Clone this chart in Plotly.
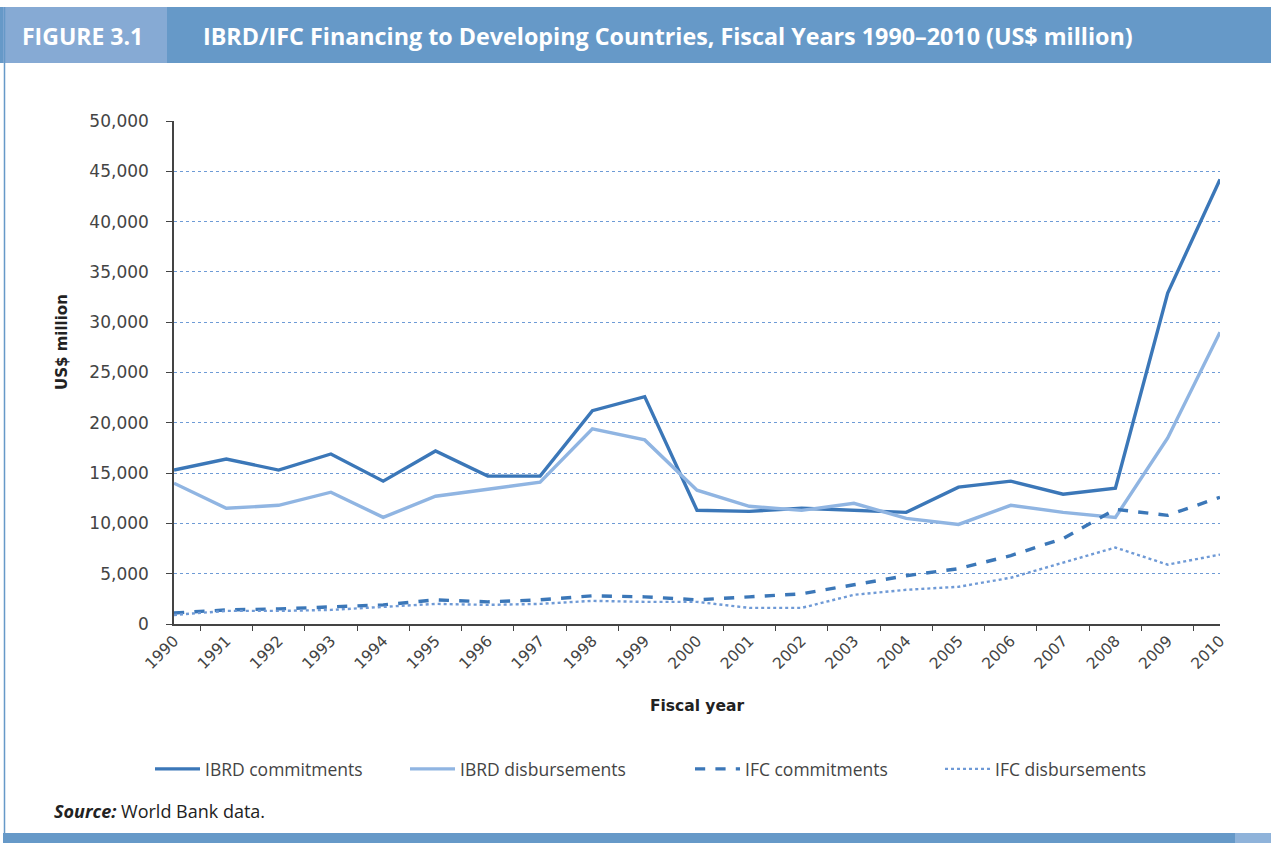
import plotly.graph_objects as go

years = [str(y) for y in range(1990, 2011)]
ibrd_commit = [15300, 16400, 15300, 16900, 14200, 17200, 14700, 14700, 21200, 22600,
               11300, 11200, 11500, 11300, 11100, 13600, 14200, 12900, 13500, 32900, 44200]
ibrd_disb = [14000, 11500, 11800, 13100, 10600, 12700, 13400, 14100, 19400, 18300,
             13300, 11700, 11300, 12000, 10500, 9900, 11800, 11100, 10600, 18500, 29000]
ifc_commit = [1100, 1400, 1500, 1700, 1900, 2400, 2200, 2400, 2800, 2700,
              2400, 2700, 3000, 3900, 4800, 5500, 6800, 8500, 11400, 10800, 12600]
ifc_disb = [900, 1300, 1300, 1400, 1700, 2000, 1900, 2000, 2300, 2200,
            2200, 1600, 1600, 2900, 3400, 3700, 4600, 6100, 7600, 5900, 6900]
y_ticks = list(range(0, 50001, 5000))
y_tick_labels = [f"{v:,}" for v in y_ticks]

PW, PH = 1271, 843
L, R, T, B = 174, 1220, 121, 624  # plot area in page pixels


def px(x):
    return (x - L) / (R - L)


def py(y):
    return (B - y) / (B - T)


dark = "#3b77b8"
light = "#90b5e2"

fig = go.Figure()
fig.add_trace(go.Scatter(x=years, y=ibrd_commit, mode="lines", name="IBRD commitments",
                         line=dict(color=dark, width=3.4), legend="legend"))
fig.add_trace(go.Scatter(x=years, y=ibrd_disb, mode="lines", name="IBRD disbursements",
                         line=dict(color=light, width=3.4), legend="legend2"))
fig.add_trace(go.Scatter(x=years, y=ifc_commit, mode="lines", name="IFC commitments",
                         line=dict(color=dark, width=3.4, dash="dash"), legend="legend3"))
fig.add_trace(go.Scatter(x=years, y=ifc_disb, mode="lines", name="IFC disbursements",
                         line=dict(color="#6f9ad6", width=2.4, dash="dot"), legend="legend4"))

shapes = [
    dict(type="rect", xref="paper", yref="paper", x0=px(0), x1=px(PW), y0=py(63), y1=py(7),
         fillcolor="#6699c8", line=dict(width=0), layer="below"),
    dict(type="rect", xref="paper", yref="paper", x0=px(3), x1=px(167), y0=py(63), y1=py(7),
         fillcolor="#86aad4", line=dict(width=0), layer="below"),
    dict(type="line", xref="paper", yref="paper", x0=px(4.5), x1=px(4.5), y0=py(833), y1=py(7),
         line=dict(color="#6699c8", width=1.5), layer="below"),
    dict(type="rect", xref="paper", yref="paper", x0=px(3), x1=px(1235), y0=py(PH), y1=py(833),
         fillcolor="#6699c8", line=dict(width=0), layer="below"),
    dict(type="rect", xref="paper", yref="paper", x0=px(1235), x1=px(PW), y0=py(PH), y1=py(833),
         fillcolor="#8fb3da", line=dict(width=0), layer="below"),
]

annotations = [
    dict(text="<b>FIGURE 3.1</b>", xref="paper", yref="paper", x=px(20), y=py(36),
         xanchor="left", yanchor="middle", showarrow=False,
         font=dict(family="Open Sans", size=23, color="white")),
    dict(text="<b>IBRD/IFC Financing to Developing Countries, Fiscal Years 1990–2010 (US$ million)</b>",
         xref="paper", yref="paper", x=px(201), y=py(36), xanchor="left", yanchor="middle",
         showarrow=False, font=dict(family="Open Sans", size=23.3, color="white")),
    dict(text="<b><i>Source:</i></b> World Bank data.", xref="paper", yref="paper",
         x=px(52), y=py(811), xanchor="left", yanchor="middle", showarrow=False,
         font=dict(family="Open Sans", size=18, color="#222222")),
    dict(text="<b>US$ million</b>", xref="paper", yref="paper", x=px(62), y=py(342),
         xanchor="center", yanchor="middle", showarrow=False, textangle=-90,
         font=dict(family="DejaVu Sans", size=15, color="#222")),
]

leg_font = dict(family="Open Sans", size=17.5, color="#444444")


def legend_at(xpix):
    return dict(orientation="h", x=px(xpix), y=py(769), xanchor="left", yanchor="middle",
                font=leg_font, itemwidth=45, bgcolor="rgba(0,0,0,0)")


fig.update_layout(
    width=PW, height=PH,
    margin=dict(l=L, r=PW - R, t=T, b=PH - B, pad=0),
    paper_bgcolor="white", plot_bgcolor="white",
    shapes=shapes, annotations=annotations,
    showlegend=True,
    legend=legend_at(150), legend2=legend_at(405), legend3=legend_at(690),
    legend4=legend_at(940),
    xaxis=dict(type="category", tickson="boundaries", ticks="outside", ticklen=5,
               tickcolor="#444", showline=True, linecolor="#444", linewidth=1.5,
               showgrid=False, tickangle=-45,
               tickfont=dict(family="DejaVu Sans", size=15.5, color="#444"),
               title=dict(text="<b>Fiscal year</b>", standoff=28,
                          font=dict(family="DejaVu Sans", size=15.5, color="#222"))),
    yaxis=dict(range=[0, 50000], tickvals=y_ticks, ticktext=y_tick_labels,
               ticks="outside", ticklen=6, tickcolor="#444", showline=True,
               linecolor="#444", linewidth=1.5, ticklabelstandoff=14,
               showgrid=True, gridcolor="#6e9bd6", gridwidth=1, griddash="dot",
               zeroline=False,
               tickfont=dict(family="DejaVu Sans", size=17, color="#444")),
)

fig.write_html("out.html", config={"displayModeBar": False},
               post_script="document.body.style.margin='0';document.body.style.overflow='hidden';")
